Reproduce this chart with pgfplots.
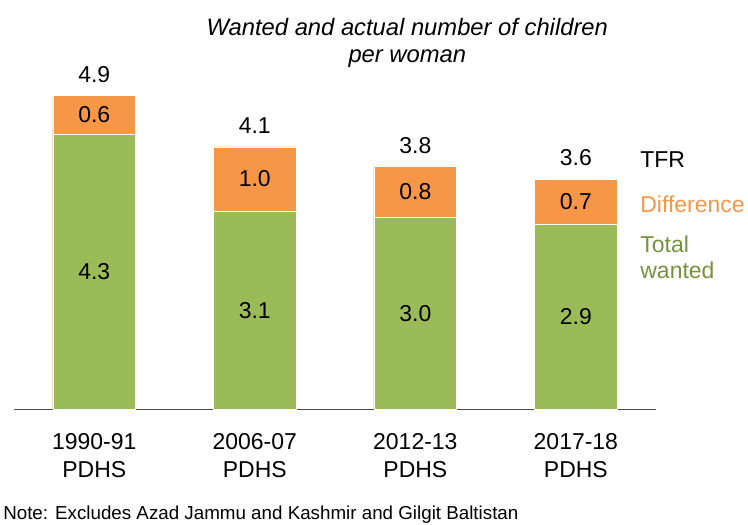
\documentclass[border=0pt]{standalone}
\usepackage{pgfplots}
\usepackage{pgfplotstable}
\pgfplotsset{compat=1.18}
\usepackage{fontspec}
\setmainfont{Liberation Sans}
\definecolor{wgreen}{HTML}{9BBB59}
\definecolor{dorange}{HTML}{F79646}
\definecolor{tgreen}{HTML}{76923C}

\pgfplotstableread{
x want diff tfr
0 4.3 0.6 4.9
1 3.1 1.0 4.1
2 3.0 0.8 3.8
3 2.9 0.7 3.6
}\tfrdata

\begin{document}
\begin{tikzpicture}
\begin{axis}[
  scale only axis, width=643pt, height=352pt,
  xmin=-0.5, xmax=3.5, ymin=0, ymax=5.4914,
  ybar, bar shift=0pt, bar width=0.516,
  axis y line=none, axis x line*=bottom,
  x axis line style={draw=black!70, line width=1pt},
  xtick={0,1,2,3}, xtick style={draw=none},
  xticklabels={{1990-91\\PDHS},{2006-07\\PDHS},{2012-13\\PDHS},{2017-18\\PDHS}},
  xticklabel style={align=center, font=\fontsize{23}{28.5}\selectfont, yshift=-16pt},
  clip=false,
  point meta=explicit,
  nodes near coords={\pgfmathprintnumber[fixed,fixed zerofill,precision=1,assume math mode=true]{\pgfplotspointmeta}},
  every node near coord/.append style={font=\fontsize{23}{28}\selectfont, text=black},
]
% totals (TFR) above the bars
\addplot[fill=dorange, draw=white, line width=0.6pt,
  every node near coord/.append style={anchor=center, yshift=21pt}]
  table[x=x, y=tfr, meta=tfr] {\tfrdata};
% difference, label centred in the orange part
\addplot[fill=dorange, draw=white, line width=0.6pt,
  visualization depends on={0.5*\thisrow{diff} \as \h},
  every node near coord/.append style={anchor=center, shift={(axis direction cs:0,-\h)}}]
  table[x=x, y=tfr, meta=diff] {\tfrdata};
% total wanted
\addplot[fill=wgreen, draw=white, line width=0.6pt,
  visualization depends on={0.5*\thisrow{want} \as \h},
  every node near coord/.append style={anchor=center, shift={(axis direction cs:0,-\h)}}]
  table[x=x, y=want, meta=want] {\tfrdata};

\node[anchor=west, font=\fontsize{23}{28}\selectfont] at (axis cs:3.38,3.9) {TFR};
\node[anchor=west, font=\fontsize{23}{28}\selectfont, text=dorange] at (axis cs:3.38,3.2) {Difference};
\node[anchor=west, align=left, font=\fontsize{23}{26}\selectfont, text=tgreen] at (axis cs:3.38,2.37) {Total\\wanted};
\node[align=center, font=\fontsize{23.8}{27}\selectfont\itshape] at (axis cs:1.95,5.73) {Wanted and actual number of children\\per woman};
\node[anchor=west, inner sep=0pt, font=\fontsize{18.8}{20}\selectfont] at (axis cs:-0.568,-1.64) {Note: Excludes Azad Jammu and Kashmir and Gilgit Baltistan};
\path (rel axis cs:-0.0218,-0.3267) rectangle (rel axis cs:1.1415,1.1648);
\end{axis}
\end{tikzpicture}
\end{document}
